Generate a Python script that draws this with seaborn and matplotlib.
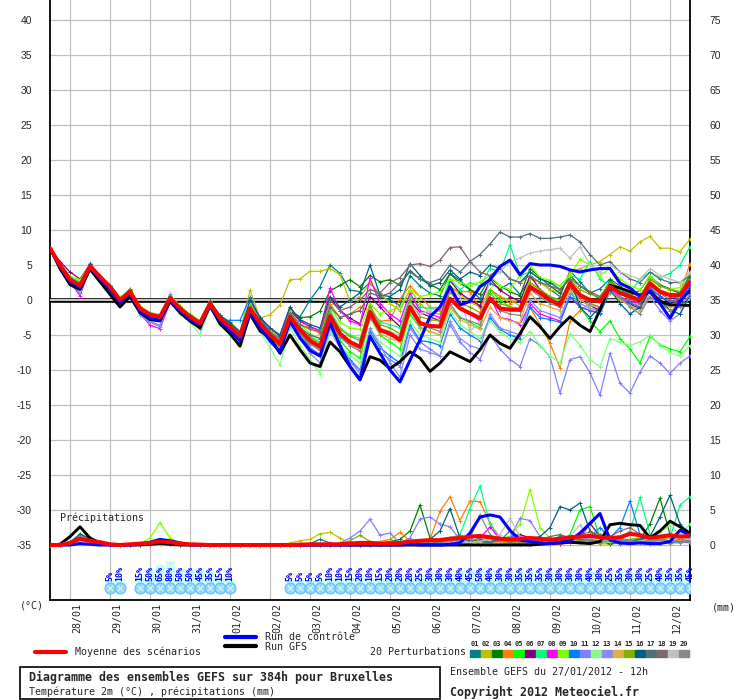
import numpy as np
import matplotlib
matplotlib.use('Agg')
import matplotlib.pyplot as plt
import seaborn as sns
from matplotlib.lines import Line2D
from matplotlib.patches import Rectangle
from matplotlib.transforms import ScaledTranslation

# GEFS run of 27/01/2012 12h, one value every 6h from 0h to 384h
STEP_H = 6
N_STEPS = 65

DATES = ['28/01', '29/01', '30/01', '31/01', '01/02', '02/02', '03/02', '04/02',
         '05/02', '06/02', '07/02', '08/02', '09/02', '10/02', '11/02', '12/02']
LEFT_TICKS = [40, 35, 30, 25, 20, 15, 10, 5, 0, -5, -10, -15, -20, -25, -30, -35]
RIGHT_LABELS = ['75', '70', '65', '60', '55', '50', '45', '40', '35', '30', '25', '20',
                '15', '10', '5', '0']
PRECIP_ZERO = -35   # precipitation (mm) drawn on the temperature scale, 0 mm at -35

PERT_NAMES = ['%02d' % k for k in range(1, 21)]
PERT_COLORS = ['#008080', '#c0c000', '#008000', '#ff8000', '#00ff00', '#800080',
               '#00ff80', '#ff00ff', '#80ff00', '#0080ff', '#8080ff', '#80ff80',
               '#8888ff', '#e0b040', '#80b000', '#006080', '#507078', '#806870',
               '#c0c0c0', '#888888']

# --- 2m temperature (°C) ---
MEAN_T = [7.4, 5.0, 2.9, 2.1, 4.8, 3.3, 1.9, 0.0, 1.2, -1.2, -2.1, -2.4, 0.3, -1.2, -2.4, -3.3,
          -0.5, -2.6, -3.8, -5.2, -1.2, -3.3, -5.0, -6.3, -2.4, -4.3, -5.8, -6.7, -2.3, -4.8, -6.0, -6.7,
          -1.7, -4.3, -4.8, -5.7, -1.0, -3.3, -3.7, -3.8, 0.2, -1.2, -1.9, -2.6, 0.2, -1.2, -1.4, -1.4,
          1.9, 1.0, 0.0, -0.7, 2.4, 0.7, 0.0, -0.2, 1.9, 1.0, 0.5, 0.0, 2.4, 1.2, 0.7, 0.7, 2.6]
CTRL_T = [7.4, 4.8, 2.6, 1.8, 4.6, 3.0, 1.5, -0.4, 1.0, -1.6, -2.6, -2.9, 0.0, -1.6, -2.8, -3.6,
          -0.8, -3.0, -4.4, -5.8, -1.8, -4.0, -5.8, -7.4, -3.0, -5.4, -7.2, -8.0, -3.3, -6.5, -9.5, -11.4,
          -5.2, -7.6, -10.0, -11.7, -8.6, -5.7, -2.4, -1.0, 1.9, -0.7, -0.2, 1.9, 2.9, 4.8, 5.7, 3.6,
          5.2, 5.0, 5.0, 4.8, 4.3, 4.0, 4.3, 4.5, 4.5, 2.4, 1.7, 0.5, 1.2, -0.5, -2.6, -0.2, 1.4]
GFS_T = [7.4, 4.5, 2.2, 1.5, 4.4, 2.6, 0.8, -1.0, 0.5, -1.8, -2.8, -3.0, -0.2, -1.8, -3.0, -4.0,
         -0.8, -3.4, -4.8, -6.6, -2.0, -4.4, -5.4, -7.6, -5.0, -7.1, -9.0, -9.5, -6.0, -7.4, -9.5, -11.4,
         -8.1, -8.6, -9.8, -8.8, -7.4, -8.3, -10.2, -9.0, -7.4, -8.1, -8.8, -7.1, -5.0, -6.2, -6.9, -4.8,
         -2.4, -3.8, -5.5, -3.8, -2.4, -3.6, -4.5, -1.4, 2.1, 1.7, 1.2, 0.7, 1.2, -0.2, -0.7, -0.7, -0.8]

T01 = [7.4, 5.1, 3.0, 2.2, 4.9, 3.4, 2.0, 0.2, 1.5, -1.0, -2.0, -2.3, 0.6, -1.0, -2.2, -3.0,
       -0.3, -2.5, -3.5, -4.8, -1.0, -3.0, -4.6, -5.5, -1.5, -2.4, 0.0, 1.9, 5.0, 3.8, 1.4, 1.2,
       2.5, 0.5, 0.0, -0.8, 3.5, 2.0, 1.0, 0.6, 3.8, 2.8, 1.5, 0.2, 2.4, 1.6, 2.4, 0.8,
       3.0, 2.6, 1.5, 0.5, 4.2, 2.6, 1.0, 1.6, 3.0, 2.0, 0.6, 1.4, 3.4, 2.2, 1.6, 1.0, 3.6]
T02 = [7.4, 5.2, 3.1, 2.4, 5.0, 3.5, 2.1, 0.3, 1.4, -0.9, -1.8, -2.1, 0.5, -0.9, -2.1, -3.0,
       -0.2, -2.3, -3.4, -4.6, 1.4, -2.6, -2.1, -0.7, 2.9, 3.0, 4.1, 4.1, 4.5, 3.6, -0.2, 0.5,
       2.4, 1.0, -0.5, -1.5, 1.5, -0.5, -1.8, -2.0, 2.0, 0.8, -0.3, -1.0, 1.5, 0.5, 0.0, -0.8,
       3.0, 2.5, 1.5, 1.0, 4.0, 4.5, 5.0, 5.5, 6.5, 7.6, 7.0, 8.3, 9.1, 7.4, 7.4, 6.9, 8.7]
T03 = [7.4, 5.0, 2.8, 2.0, 4.9, 3.4, 1.8, 0.1, 1.6, -1.1, -2.0, -2.2, 0.4, -1.1, -2.3, -3.1,
       -0.4, -2.2, -3.2, -4.5, -0.8, -2.6, -4.0, -5.2, -1.8, -2.5, -2.4, -1.6, 1.3, 2.1, 2.9, 1.9,
       3.5, 2.6, 2.9, 2.1, 4.2, 3.0, 2.2, 1.5, 3.8, 2.4, 1.5, 0.8, 3.2, 2.0, 1.2, 0.6,
       4.5, 3.2, 2.0, 1.0, 3.5, 2.0, 1.0, 0.2, 2.8, 1.5, 0.6, 0.0, 3.0, 2.0, 1.5, 1.0, 3.2]
T04 = [7.4, 4.9, 2.7, 2.0, 4.7, 3.2, 1.7, -0.2, 1.1, -1.4, -2.3, -2.6, 0.1, -1.4, -2.6, -3.5,
       -0.6, -2.8, -4.0, -5.4, -1.0, -3.2, -4.8, -6.0, -2.4, -3.5, -4.0, -4.8, -0.6, -2.5, -2.0, -1.0,
       -1.5, -3.0, -2.9, 0.2, 2.0, 0.5, -1.0, -1.5, 1.8, 1.2, 1.2, -1.2, 1.5, 0.5, -0.5, 0.0,
       -1.0, -3.5, -6.2, -9.7, -3.0, -1.5, -0.5, -1.2, 2.5, 1.0, 0.0, -1.0, 1.8, -0.5, -2.6, 1.0, 5.2]
T05 = [7.4, 5.1, 3.3, 2.6, 4.9, 3.1, 1.6, -0.3, 1.0, -1.5, -2.4, -2.8, -0.1, -1.7, -2.9, -3.8,
       -0.7, -3.0, -4.4, -5.8, -1.7, -4.0, -5.7, -7.2, -3.0, -5.2, -6.8, -8.0, -3.0, -5.8, -7.4, -8.3,
       -2.5, -5.0, -6.0, -7.0, -2.0, -4.0, -4.5, -5.0, -1.0, -2.5, -3.2, -4.0, 1.5, 0.0, -1.0, -1.5,
       2.5, 1.5, 0.5, -0.5, 1.5, -1.0, -3.0, -4.5, -3.0, -5.5, -7.0, -9.0, -5.2, -6.4, -7.0, -7.4, -5.2]
T06 = [7.4, 5.5, 4.0, 3.0, 5.1, 3.5, 2.0, 0.1, 1.3, -1.1, -2.0, -2.4, 0.4, -1.3, -2.5, -3.3,
       -0.3, -2.5, -3.6, -4.9, -0.8, -2.8, -4.4, -5.5, -1.5, -3.0, -3.8, -4.4, 0.3, -1.5, -2.6, -3.4,
       0.5, -1.0, -2.5, -3.8, 0.0, -1.8, -2.4, -3.0, 2.8, 1.0, 0.0, -0.8, 3.0, 1.4, 0.5, -0.2,
       3.5, 1.5, 0.2, -1.0, 1.8, 0.0, -0.8, -1.5, 1.2, 0.2, -0.6, -1.2, 1.5, 0.6, -0.5, 0.0, 2.0]
T07 = [7.4, 4.9, 2.8, 2.0, 4.7, 3.2, 1.9, 0.1, 1.3, -1.0, -2.0, -2.2, 0.6, -0.9, -2.1, -3.0,
       -0.2, -2.3, -3.5, -4.8, -0.9, -3.0, -4.6, -5.8, -2.0, -3.9, -5.2, -6.0, -1.5, -4.0, -5.0, -5.5,
       -1.0, -3.2, -3.5, -4.0, 0.5, -1.0, -1.2, -1.0, 3.0, 1.5, 2.5, 2.0, 4.5, 4.0, 7.9, 3.5,
       4.0, 3.0, 2.5, 2.0, 3.5, 3.0, 5.5, 3.0, 2.0, 1.5, 1.0, 3.0, 4.0, 3.2, 3.8, 5.0, 7.6]
T08 = [7.4, 4.9, 2.6, 0.6, 4.6, 3.1, 1.7, -0.4, 0.7, -1.9, -3.6, -4.1, -0.3, -1.6, -2.7, -3.6,
       -0.8, -2.8, -3.5, -4.6, -0.5, -2.4, -4.0, -5.0, -1.0, -3.0, -3.8, -4.4, 1.7, -1.5, -3.0, -3.5,
       3.1, -0.5, -2.0, -3.0, 1.0, -1.5, -2.0, -2.5, 1.5, -1.0, -2.0, -3.0, 0.5, -2.5, -2.8, -3.5,
       -0.5, -2.0, -2.5, -3.0, 0.5, -1.0, -1.5, -1.8, 1.5, 0.5, -0.2, -0.5, 2.0, 1.0, 0.5, 0.2, 2.5]
T09 = [7.4, 5.2, 3.4, 2.9, 5.0, 3.5, 2.1, 0.4, 1.5, -0.9, -1.8, -2.1, 0.7, -0.8, -2.0, -2.9,
       -0.1, -2.2, -3.4, -4.6, -0.6, -2.8, -4.4, -5.6, -1.6, -3.5, -4.8, -5.5, -1.0, -3.2, -4.0, -4.2,
       -0.5, -2.0, -1.5, -1.0, 1.5, 0.5, 0.8, 1.2, 3.0, 2.5, 2.0, 2.6, 3.5, 2.0, 1.5, 3.5,
       5.0, 3.2, 2.8, 2.0, 3.5, 5.8, 5.0, 3.5, 4.5, 3.0, 2.0, 1.5, 3.5, 2.0, 1.5, 1.8, 3.8]
T10 = [7.4, 4.8, 2.6, 1.8, 4.5, 3.0, 1.6, -0.2, 1.0, -1.3, -2.1, -2.6, 0.5, -1.0, -2.5, -3.6,
       -0.2, -2.9, -2.9, -2.9, 0.4, -2.6, -4.5, -6.0, -2.0, -4.6, -6.8, -8.0, -3.8, -6.5, -8.5, -10.0,
       -4.5, -6.8, -8.0, -9.0, -3.5, -5.8, -6.0, -6.5, -2.0, -4.0, -5.0, -5.8, -2.5, -4.2, -5.0, -5.5,
       -1.0, -2.5, -2.8, -3.2, 0.5, -1.0, -1.5, -2.0, 1.2, 0.2, -0.4, -1.0, 1.8, 0.5, -0.2, 0.2, 2.0]
T11 = [7.4, 4.6, 2.3, 1.0, 5.3, 3.5, 1.6, -0.5, 0.8, -1.9, -3.1, -3.6, 0.8, -1.5, -2.8, -3.6,
       -0.9, -3.0, -4.3, -6.0, -1.8, -4.0, -5.8, -7.1, -3.2, -5.3, -6.8, -7.8, -4.5, -6.8, -8.8, -10.0,
       -5.0, -7.5, -8.5, -9.5, -4.0, -6.0, -7.0, -8.0, -3.5, -6.0, -7.5, -8.5, -5.0, -7.0, -8.5, -9.5,
       -5.5, -6.5, -8.1, -13.3, -8.5, -8.1, -10.4, -13.6, -7.6, -11.9, -13.3, -10.3, -8.0, -9.0, -10.5, -9.0, -8.0]
T12 = [7.4, 4.7, 2.4, 1.5, 4.3, 2.7, 1.3, -0.6, 0.6, -1.8, -2.7, -3.0, 0.0, -2.0, -3.2, -5.0,
       -1.2, -3.4, -4.8, -6.3, -2.0, -4.5, -6.8, -9.3, -4.0, -6.5, -8.5, -10.5, -4.5, -6.5, -8.0, -9.0,
       -4.0, -6.0, -7.0, -8.0, -3.0, -5.0, -5.5, -6.0, -1.5, -3.5, -4.5, -5.5, -3.0, -4.5, -5.5, -6.0,
       -4.5, -6.5, -8.0, -9.0, -4.8, -6.5, -8.5, -9.5, -5.5, -6.0, -6.5, -6.0, -5.0, -6.5, -7.5, -8.0, -6.5]
T13 = [7.4, 4.8, 2.5, 1.7, 5.0, 3.1, 1.5, -0.3, 0.9, -2.2, -3.2, -3.8, 0.1, -1.9, -3.0, -4.1,
       -1.0, -3.2, -4.5, -6.0, -1.5, -4.2, -6.0, -7.5, -3.5, -5.6, -7.6, -9.0, -4.0, -6.4, -8.8, -10.5,
       -4.0, -6.5, -9.0, -11.0, -5.0, -7.0, -7.5, -8.0, -3.0, -5.5, -6.5, -7.0, -2.0, -4.0, -4.5, -5.0,
       0.0, -1.5, -2.0, -2.5, 1.0, -0.5, -1.2, -1.5, 1.5, 0.0, -0.8, -1.5, 0.5, -1.5, -3.0, -2.0, 0.5]
T14 = [7.4, 4.9, 2.8, 2.1, 4.8, 3.2, 1.8, -0.1, 1.1, -1.3, -2.2, -2.5, 0.2, -1.3, -2.5, -3.4,
       -0.6, -2.7, -3.9, -5.3, -1.4, -3.5, -5.2, -6.5, -2.6, -4.6, -6.2, -7.0, -2.8, -5.2, -6.5, -7.2,
       -2.5, -4.8, -5.5, -6.0, -1.5, -3.8, -4.5, -5.0, -1.0, -2.8, -3.5, -4.2, -1.0, -2.5, -3.0, -3.2,
       1.0, -0.5, -1.0, -1.5, 1.5, 0.0, -0.8, -1.0, 1.2, 0.0, -0.8, -1.5, 1.0, -0.5, -1.0, -0.5, 1.5]
T15 = [7.4, 5.0, 3.0, 2.3, 4.9, 3.4, 2.0, 0.1, 1.4, -1.0, -1.9, -2.2, 0.5, -1.0, -2.2, -3.1,
       -0.3, -2.4, -3.6, -5.0, -0.9, -3.1, -4.7, -6.0, -2.0, -4.0, -5.4, -6.2, -1.8, -4.2, -5.2, -5.8,
       -0.8, -3.5, -4.0, -4.8, 0.0, -2.4, -2.8, -3.0, 1.2, -0.5, -1.0, -1.8, 1.0, -0.5, -1.0, -1.2,
       2.5, 1.5, 0.5, 0.0, 2.8, 1.5, 0.8, 0.5, 2.5, 1.8, 1.0, 0.5, 3.0, 2.0, 1.5, 1.2, 3.0]
T16 = [7.4, 5.1, 3.1, 2.3, 5.1, 3.5, 2.0, 0.0, 1.3, -1.2, -2.0, -2.3, 0.5, -1.1, -2.2, -3.1,
       -0.2, -2.2, -3.3, -4.6, 0.0, -2.5, -4.0, -5.0, -1.0, -2.8, -3.5, -4.0, 0.5, -1.0, 0.0, 1.0,
       5.0, 0.7, 0.5, 1.5, 5.2, 3.5, 2.0, 2.5, 4.3, 3.0, 4.0, 3.5, 5.0, 4.5, 3.0, 2.5,
       4.0, 3.0, 2.5, 1.5, 3.0, -1.0, -2.5, -1.0, 1.5, -0.5, -2.0, -1.0, 1.5, 0.0, -1.5, -2.0, 0.8]
T17 = [7.4, 5.0, 2.9, 2.2, 4.7, 3.1, 1.8, 0.0, 1.1, -1.3, -2.3, -2.6, 0.2, -1.3, -2.6, -3.5,
       -0.6, -2.6, -3.8, -5.2, -1.3, -3.4, -5.0, -6.2, -2.2, -4.0, -5.0, -5.5, -1.0, -2.5, -2.0, -1.5,
       1.0, 0.5, 1.0, 2.5, 4.0, 3.0, 2.5, 3.0, 5.0, 4.0, 5.5, 6.5, 8.0, 9.7, 9.0, 9.0,
       9.5, 8.8, 8.8, 9.0, 9.3, 8.3, 6.5, 5.0, 5.5, 4.0, 3.0, 2.5, 4.0, 3.0, 2.5, 2.5, 3.5]
T18 = [7.4, 5.1, 3.0, 2.2, 4.8, 3.3, 1.9, 0.0, 1.2, -1.2, -2.2, -2.5, 0.3, -1.2, -2.4, -3.3,
       -0.4, -2.5, -3.7, -5.0, -1.1, -3.1, -4.6, -5.6, -1.8, -3.5, -4.2, -4.5, 0.0, -1.5, -1.0, 0.0,
       1.5, 1.0, 2.5, 3.2, 5.0, 5.2, 4.8, 5.7, 7.5, 7.6, 5.5, 4.0, 3.5, 4.5, 3.0, 2.5,
       3.5, 2.5, 2.0, 1.5, 3.0, 2.0, 1.2, 0.5, 2.0, 1.0, 0.2, -0.5, 2.0, 1.0, 0.0, -0.5, 1.5]
T19 = [7.4, 4.9, 2.7, 1.9, 4.6, 3.0, 1.7, -0.2, 1.0, -1.5, -2.4, -2.7, 0.0, -1.5, -2.7, -3.6,
       -0.7, -2.9, -4.2, -5.6, -1.6, -3.8, -5.5, -6.8, -2.8, -4.8, -6.2, -7.2, -2.8, -5.3, -6.4, -7.0,
       -2.0, -4.0, -4.5, -5.0, -0.5, -2.0, -1.5, -1.0, 1.5, 0.5, -4.5, -3.0, 3.0, 4.0, 5.5, 6.0,
       6.7, 7.0, 7.2, 7.4, 6.0, 7.6, 5.0, 4.0, 5.0, 4.0, 3.5, 3.0, 4.5, 3.5, 3.0, 2.5, 4.0]
T20 = [7.4, 4.8, 2.6, 1.8, 4.6, 3.1, 1.6, -0.3, 0.9, -1.5, -2.4, -2.7, 0.0, -1.5, -2.7, -3.7,
       -0.8, -3.0, -4.3, -5.7, -1.5, -3.7, -5.4, -6.8, -2.8, -4.8, -6.3, -7.2, -3.0, -5.3, -6.5, -7.3,
       -2.5, -4.5, -5.0, -5.5, -1.0, -3.5, -4.0, -4.5, -0.5, -2.5, -3.0, -3.5, 0.5, -1.5, -2.0, -2.2,
       1.5, 0.5, -0.5, -1.0, 2.0, 0.5, -0.5, -1.0, 1.0, 0.5, -1.0, -2.0, 0.5, -0.5, -1.5, -1.0, 0.8]
PERT_T = [T01, T02, T03, T04, T05, T06, T07, T08, T09, T10,
          T11, T12, T13, T14, T15, T16, T17, T18, T19, T20]

# --- precipitation (mm per 6h) ---
MEAN_P = [0, 0, 0.3, 0.9, 0.6, 0.4, 0.1, 0, 0.1, 0.2, 0.3, 0.5, 0.4, 0.2, 0.1, 0.05, 0, 0, 0, 0,
          0, 0, 0, 0, 0, 0.05, 0.1, 0.1, 0.1, 0.1, 0.2, 0.3, 0.3, 0.2, 0.2, 0.3, 0.5, 0.6, 0.7, 0.7,
          0.9, 1.0, 1.2, 1.3, 1.1, 0.9, 0.8, 0.9, 1.0, 0.9, 0.7, 0.9, 1.1, 1.2, 1.3, 1.1, 1.0, 1.1, 1.6, 1.4,
          1.0, 1.2, 1.4, 1.2, 1.3]
CTRL_P = [0, 0, 0, 0.2, 0.1, 0, 0, 0, 0, 0.1, 0.4, 0.8, 0.6, 0.3, 0, 0, 0, 0, 0, 0,
          0, 0, 0, 0, 0, 0, 0, 0, 0, 0, 0, 0, 0, 0, 0, 0, 0.1, 0, 0, 0,
          0.1, 0.3, 1.7, 4.0, 4.3, 4.0, 2.1, 0.7, 0.5, 0.3, 0.2, 0.4, 0.6, 1.7, 3.1, 4.5, 0.7, 0.3, 0.2, 0.3,
          0.2, 0.2, 0.5, 2.1, 1.4]
GFS_P = [0, 0.1, 1.2, 2.6, 1.0, 0.3, 0, 0, 0, 0, 0.1, 0.2, 0.1, 0, 0, 0, 0, 0, 0, 0,
         0, 0, 0, 0, 0, 0, 0, 0, 0, 0, 0, 0, 0, 0, 0, 0, 0, 0, 0, 0,
         0, 0, 0, 0, 0, 0, 0, 0, 0, 0.1, 0.2, 0.3, 0.4, 0.3, 0.2, 0.5, 2.9, 3.1, 2.9, 2.8,
         1.0, 2.0, 3.4, 2.6, 1.7]

P01 = [0, 0, 0.2, 0.8, 0.4, 0.1, 0, 0, 0, 0, 0.1, 0.3, 0.2, 0, 0, 0, 0, 0, 0, 0, 0, 0, 0, 0,
       0, 0, 0.2, 0.8, 0.3, 0, 0, 0, 0.1, 0.2, 0.3, 0.2, 0.4, 0.5, 0.3, 0.6, 1.0, 0.8, 0.5, 0.3,
       0.2, 0.4, 0.6, 0.3, 0.2, 0.5, 0.8, 1.2, 0.9, 0.6, 0.4, 0.5, 0.3, 0.2, 0.6, 0.8, 0.5, 0.3, 0.4, 0.6, 0.5]
P02 = [0, 0, 0.4, 1.2, 0.6, 0.2, 0, 0, 0, 0, 0, 0.2, 0.1, 0, 0, 0, 0, 0, 0, 0, 0, 0, 0, 0,
       0.3, 0.6, 0.8, 1.6, 1.8, 1.0, 0.2, 0.1, 0, 0, 0.1, 0.2, 0.3, 0.2, 0.1, 0.3, 0.4, 0.2, 0.1, 0,
       0.2, 0.3, 0.1, 0.2, 0.3, 0.4, 0.2, 0.1, 0.3, 0.5, 0.4, 0.2, 0.1, 0.3, 0.5, 0.6, 0.4, 0.3, 0.2, 0.4, 0.3]
P03 = [0, 0, 0.3, 1.0, 0.8, 0.4, 0.1, 0, 0, 0, 0.2, 0.4, 0.3, 0.1, 0, 0, 0, 0, 0, 0, 0, 0, 0, 0,
       0, 0, 0, 0, 0.1, 0, 0, 0, 0.2, 0.3, 0.5, 0.8, 2.0, 5.7, 1.0, 0.4, 0.3, 0.2, 0.4, 0.3,
       0.2, 0.5, 0.3, 0.2, 0.4, 0.6, 0.3, 0.5, 0.8, 0.4, 0.3, 0.5, 0.2, 0.4, 0.6, 0.8, 3.0, 6.7, 1.5, 0.8, 0.5]
P04 = [0, 0, 0.1, 0.6, 0.4, 0.1, 0, 0, 0, 0, 0.1, 0.2, 0.1, 0, 0, 0, 0, 0, 0, 0, 0, 0, 0, 0,
       0, 0, 0, 0, 0, 0, 0.1, 0.2, 0.3, 0.5, 0.8, 1.8, 0.6, 0.4, 0.8, 4.8, 6.9, 3.5, 6.3, 6.2,
       3.1, 1.0, 0.4, 0.2, 0.3, 0.5, 0.2, 0.1, 0.3, 0.4, 0.2, 0.3, 0.5, 0.4, 0.2, 0.3, 0.5, 0.4, 0.3, 0.6, 0.4]
P05 = [0, 0, 0.5, 1.4, 0.9, 0.3, 0, 0, 0, 0, 0.3, 0.6, 0.4, 0.2, 0, 0, 0, 0, 0, 0, 0, 0, 0, 0,
       0, 0, 0, 0, 0.1, 0.1, 0.2, 0.3, 0.2, 0.1, 0.3, 0.4, 0.6, 0.3, 0.2, 0.4, 0.8, 0.5, 0.3, 0.6,
       0.4, 0.3, 0.5, 0.2, 0.3, 0.6, 0.4, 0.5, 1.5, 5.0, 5.5, 1.0, 0.5, 0.3, 0.4, 0.6, 0.5, 0.8, 0.6, 0.4, 0.7]
P06 = [0, 0, 0.3, 0.7, 1.0, 0.3, 0, 0, 0, 0, 0.1, 0.3, 0.2, 0, 0, 0, 0, 0, 0, 0, 0, 0, 0, 0,
       0, 0, 0, 0, 0, 0, 0, 0.1, 0.2, 0.1, 0.2, 0.3, 0.5, 0.4, 0.3, 0.2, 0.4, 0.6, 0.5, 0.3,
       0.5, 0.8, 1.2, 1.5, 1.0, 0.6, 0.4, 0.8, 1.2, 1.0, 3.1, 1.2, 0.8, 0.6, 0.4, 0.5, 0.3, 0.4, 0.6, 0.5, 0.4]
P07 = [0, 0, 0.2, 0.9, 0.5, 0.2, 0, 0, 0, 0, 0.2, 0.4, 0.3, 0.1, 0, 0, 0, 0, 0, 0, 0, 0, 0, 0,
       0, 0, 0, 0, 0, 0, 0, 0.1, 0.3, 0.2, 0.4, 0.3, 0.6, 0.5, 0.4, 0.8, 1.0, 1.5, 5.2, 8.4,
       3.0, 1.0, 0.5, 0.3, 0.4, 0.6, 0.3, 0.4, 0.5, 0.8, 0.6, 0.4, 0.5, 0.8, 2.0, 6.8, 1.5, 0.8, 1.0, 5.7, 6.9]
P08 = [0, 0, 0.4, 1.0, 0.4, 0.1, 0, 0, 0, 0, 0.2, 0.5, 0.2, 0, 0, 0, 0, 0, 0, 0, 0, 0, 0, 0,
       0, 0, 0, 0.1, 0.2, 0, 0, 0, 0.1, 0.2, 0.3, 0.2, 0.4, 0.3, 0.2, 0.5, 0.6, 0.4, 0.5, 1.0,
       2.6, 0.8, 0.4, 0.3, 0.2, 0.4, 0.3, 0.2, 0.5, 0.4, 0.3, 0.6, 0.4, 0.3, 0.5, 0.4, 0.3, 0.6, 0.5, 0.4, 0.5]
P09 = [0, 0, 0.3, 1.1, 0.6, 0.2, 0, 0, 0, 0.2, 1.0, 3.2, 1.0, 0.3, 0, 0, 0, 0, 0, 0, 0, 0, 0, 0,
       0, 0, 0, 0, 0, 0.1, 0, 0, 0.1, 0.2, 0.3, 0.4, 0.3, 0.5, 0.4, 0.6, 0.5, 0.3, 0.4, 0.6,
       0.8, 1.0, 1.2, 3.0, 7.9, 2.5, 1.0, 0.6, 0.4, 0.5, 0.3, 0.6, 0.8, 0.5, 0.4, 0.3, 0.6, 0.8, 1.5, 1.0, 0.8]
P10 = [0, 0, 0.2, 0.8, 0.5, 0.2, 0, 0, 0, 0, 0.1, 0.4, 0.2, 0, 0, 0, 0, 0, 0, 0, 0, 0, 0, 0,
       0, 0, 0, 0, 0, 0, 0, 0.1, 0.1, 0.2, 0.1, 0.3, 0.2, 0.4, 0.3, 0.2, 0.5, 0.4, 0.3, 0.6,
       0.4, 0.3, 0.2, 0.4, 0.5, 0.3, 0.4, 0.6, 0.8, 1.0, 1.2, 2.5, 1.0, 2.5, 6.3, 1.5, 0.6, 0.4, 0.3, 0.5, 0.4]
P11 = [0, 0, 0.4, 1.3, 0.7, 0.2, 0, 0, 0, 0, 0.3, 0.6, 0.3, 0.1, 0, 0, 0, 0, 0, 0, 0, 0, 0, 0,
       0, 0, 0, 0, 0.1, 0.3, 1.0, 2.0, 3.7, 1.4, 1.7, 0.3, 1.0, 3.7, 4.0, 3.0, 2.6, 0.8, 0.5, 0.3,
       0.4, 0.6, 1.0, 3.8, 3.5, 1.2, 0.6, 0.4, 0.3, 0.5, 0.4, 0.3, 0.6, 0.5, 0.3, 0.4, 0.2, 0.3, 0.4, 0.3, 0.5]
P12 = [0, 0, 0.3, 0.9, 0.6, 0.3, 0.1, 0, 0, 0, 0.1, 0.3, 0.1, 0, 0, 0, 0, 0, 0, 0, 0, 0, 0, 0,
       0, 0, 0, 0, 0, 0, 0, 0, 0.1, 0.1, 0.2, 0.3, 0.2, 0.4, 0.3, 0.5, 0.4, 0.6, 0.8, 0.5,
       0.4, 0.3, 0.5, 0.4, 0.6, 0.3, 0.4, 0.5, 0.8, 1.0, 0.6, 0.5, 0.4, 0.6, 0.8, 1.0, 1.2, 1.8, 2.8, 1.5, 3.0]
P13 = [0, 0, 0.2, 0.7, 0.4, 0.1, 0, 0, 0, 0, 0.2, 0.4, 0.3, 0.1, 0, 0, 0, 0, 0, 0, 0, 0, 0, 0,
       0, 0, 0, 0, 0, 0, 0, 0, 0.1, 0.2, 0.3, 0.2, 0.4, 0.3, 0.5, 0.3, 0.4, 0.6, 0.4, 0.3,
       0.5, 0.4, 0.3, 0.5, 0.4, 0.6, 0.5, 0.4, 0.6, 0.8, 1.0, 1.5, 0.8, 0.6, 0.4, 0.5, 0.3, 0.6, 0.4, 0.5, 0.6]
P14 = [0, 0, 0.3, 1.0, 0.5, 0.2, 0, 0, 0, 0, 0.2, 0.5, 0.4, 0.1, 0, 0, 0, 0, 0, 0, 0, 0, 0, 0,
       0, 0, 0, 0, 0, 0, 0, 0, 0, 0.1, 0.2, 0.1, 0.3, 0.2, 0.4, 0.3, 0.2, 0.4, 0.5, 0.3,
       0.2, 0.4, 0.3, 0.5, 0.6, 0.4, 0.3, 0.5, 0.4, 0.3, 0.5, 0.4, 0.6, 0.5, 0.3, 0.4, 0.5, 0.8, 1.0, 0.6, 0.8]
P15 = [0, 0, 0.4, 1.5, 0.8, 0.3, 0, 0, 0, 0, 0.1, 0.4, 0.2, 0, 0, 0, 0, 0, 0, 0, 0, 0, 0, 0,
       0, 0, 0, 0, 0, 0.2, 0.6, 1.4, 0.5, 0.2, 0.3, 0.2, 0.4, 0.6, 0.8, 0.5, 0.6, 1.4, 0.8, 0.5,
       0.4, 0.6, 0.3, 0.5, 0.4, 0.6, 0.8, 0.5, 0.4, 0.6, 0.8, 0.5, 0.6, 0.4, 0.8, 1.0, 0.6, 0.8, 1.2, 0.9, 1.0]
P16 = [0, 0, 0.3, 1.6, 0.9, 0.4, 0.1, 0, 0, 0, 0.2, 0.4, 0.2, 0, 0, 0, 0, 0, 0, 0, 0, 0, 0, 0,
       0, 0, 0, 0, 0, 0, 0, 0, 0.1, 0.2, 0.3, 0.5, 0.4, 0.6, 0.8, 2.0, 5.2, 1.0, 0.6, 0.5,
       0.4, 0.8, 0.6, 0.5, 0.8, 1.2, 2.5, 5.5, 5.0, 6.0, 2.0, 1.0, 0.8, 0.6, 0.5, 0.8, 1.2, 4.0, 7.1, 3.0, 1.5]
P17 = [0, 0, 0.2, 0.9, 0.7, 0.4, 0.1, 0, 0, 0, 0.1, 0.3, 0.2, 0, 0, 0, 0, 0, 0, 0, 0, 0, 0, 0,
       0, 0, 0, 0, 0, 0, 0, 0, 0, 0.1, 0.2, 0.3, 0.2, 0.4, 0.3, 0.5, 0.6, 0.8, 1.5, 0.8,
       0.5, 0.6, 2.0, 1.0, 0.6, 0.8, 1.2, 1.5, 1.0, 0.8, 0.6, 0.5, 0.8, 1.0, 0.6, 0.5, 0.8, 0.6, 0.4, 0.5, 0.6]
P18 = [0, 0, 0.3, 0.8, 0.5, 0.2, 0, 0, 0, 0, 0.2, 0.6, 0.3, 0.1, 0, 0, 0, 0, 0, 0, 0, 0, 0, 0,
       0, 0, 0, 0, 0, 0, 0, 0, 0.1, 0.1, 0.2, 0.3, 0.5, 0.4, 0.3, 0.6, 0.5, 0.8, 1.0, 1.2,
       0.8, 0.6, 0.5, 0.8, 1.0, 0.6, 0.5, 0.8, 1.2, 1.5, 1.8, 1.5, 1.2, 2.0, 2.5, 1.5, 1.0, 0.8, 0.6, 0.8, 1.0]
P19 = [0, 0, 0.2, 0.6, 0.3, 0.1, 0, 0, 0, 0, 0.1, 0.2, 0.1, 0, 0, 0, 0, 0, 0, 0, 0, 0, 0, 0,
       0, 0, 0, 0, 0, 0, 0, 0, 0, 0.1, 0.2, 0.3, 0.2, 0.4, 0.6, 0.8, 0.5, 0.3, 0.4, 0.5,
       0.8, 1.5, 3.8, 1.2, 0.6, 0.4, 0.5, 0.8, 1.2, 2.9, 1.0, 0.6, 0.8, 0.5, 0.4, 0.6, 0.8, 0.5, 0.6, 1.0, 0.8]
P20 = [0, 0, 0.3, 1.1, 0.6, 0.2, 0, 0, 0, 0, 0.2, 0.5, 0.3, 0, 0, 0, 0, 0, 0, 0, 0, 0, 0, 0,
       0, 0, 0, 0, 0, 0, 0, 0, 0.1, 0.2, 0.3, 0.2, 0.4, 0.3, 0.5, 0.4, 0.6, 0.8, 1.0, 4.3,
       1.5, 0.6, 0.8, 0.5, 0.4, 0.6, 0.8, 0.5, 0.6, 0.4, 0.8, 0.6, 1.0, 0.8, 0.6, 0.4, 0.5, 0.8, 0.6, 0.4, 0.5]
PERT_P = [P01, P02, P03, P04, P05, P06, P07, P08, P09, P10,
          P11, P12, P13, P14, P15, P16, P17, P18, P19, P20]

# probability of precipitation (%) per 6h step, 0 = no label
PRECIP_PROB = [0, 0, 0, 0, 0, 0, 5, 10, 0, 15, 50, 65, 80, 50, 50, 45, 35, 15, 10, 0,
               0, 0, 0, 0, 5, 5, 5, 5, 10, 10, 15, 20, 10, 15, 20, 20, 20, 25, 30, 30,
               30, 40, 45, 50, 40, 30, 30, 35, 35, 35, 30, 30, 30, 30, 40, 30, 25, 35, 30, 30,
               25, 40, 35, 35, 45]

# ---------------------------------------------------------------
sns.set_style('white')
plt.rcParams['font.family'] = ['DejaVu Sans Mono']
MONO = 'DejaVu Sans Mono'
SANS = 'Liberation Sans'

W, H = 740, 700
fig = plt.figure(figsize=(W / 100, H / 100), dpi=100)


def fx(x):
    return x / W


def fy(y):
    return 1 - y / H


ax = fig.add_axes([fx(50), fy(600), 640 / W, 600 / H])
hours = np.arange(N_STEPS) * STEP_H
YMAX = 300 / 7
ax.set_xlim(0, hours[-1])
ax.set_ylim(-YMAX, YMAX)

ax.set_axisbelow(True)
ax.grid(True, color='#c0c0c0', lw=0.9)
ax.set_yticks(LEFT_TICKS)
ax.set_yticklabels([str(v) for v in LEFT_TICKS], fontfamily=SANS, fontsize=7.5)
ax.set_xticks(12 + 24 * np.arange(len(DATES)))
ax.set_xticklabels(DATES, rotation=90, fontfamily=MONO, fontsize=7.2)
ax.tick_params(axis='y', length=0, pad=13)
ax.tick_params(axis='x', length=0, pad=2.2)
for lbl in ax.get_xticklabels():
    lbl.set_transform(lbl.get_transform() + ScaledTranslation(0.07, 0, fig.dpi_scale_trans))
ax.spines['top'].set_visible(False)
for side in ['left', 'right', 'bottom']:
    ax.spines[side].set_color('black')
    ax.spines[side].set_linewidth(1.3)

# zero line (double black rule)
ax.axhline(0, color='black', lw=3.3, zorder=2.5)
ax.axhline(0, color='white', lw=1.1, zorder=2.6)

# probability band, icons and labels at the bottom
prob = np.array(PRECIP_PROB)
has = prob > 0
bar_bottom = -YMAX + 8 / 7
bar_top = -YMAX + (20 + 0.25 * prob[has]) / 7
ax.bar(hours[has], bar_top - bar_bottom, width=STEP_H, bottom=bar_bottom,
       color='#c4fcff', zorder=2)
icon_y = np.full(has.sum(), -YMAX + 12.5 / 7)
ax.scatter(hours[has], icon_y, s=64, c='#8ad8fc', edgecolors='#56b4ee', linewidths=0.6, zorder=4)
ax.scatter(hours[has], icon_y, s=16, marker='x', c='#e6faff', linewidths=0.7, zorder=4.1)
for h, p in zip(hours[has], prob[has]):
    ax.text(h, -YMAX + 19 / 7, f'{p}%', rotation=90, ha='center', va='bottom',
            color='#0000ff', fontsize=6, fontweight='bold', fontfamily=MONO, zorder=5)

# ensemble members: temperature then precipitation
for vals, c in zip(PERT_T, PERT_COLORS):
    sns.lineplot(x=hours, y=vals, color=c, lw=0.9, marker='+', markersize=3.5,
                 markeredgecolor=c, markeredgewidth=0.7, errorbar=None, ax=ax, zorder=3)
for vals, c in zip(PERT_P, PERT_COLORS):
    sns.lineplot(x=hours, y=np.array(vals) + PRECIP_ZERO, color=c, lw=0.9, marker='+',
                 markersize=3.5, markeredgecolor=c, markeredgewidth=0.7, errorbar=None,
                 ax=ax, zorder=3)

for series, off in [(GFS_T, 0), (GFS_P, PRECIP_ZERO)]:
    sns.lineplot(x=hours, y=np.array(series) + off, color='black', lw=2.1, errorbar=None,
                 ax=ax, zorder=4)
for series, off in [(CTRL_T, 0), (CTRL_P, PRECIP_ZERO)]:
    sns.lineplot(x=hours, y=np.array(series) + off, color='#0000ff', lw=2.2, errorbar=None,
                 ax=ax, zorder=4.2)
for series, off in [(MEAN_T, 0), (MEAN_P, PRECIP_ZERO)]:
    sns.lineplot(x=hours, y=np.array(series) + off, color='#ff0000', lw=2.9, errorbar=None,
                 ax=ax, zorder=4.4)
ax.set_xlabel('')
ax.set_ylabel('')

# right-hand scale
ax2 = ax.twinx()
ax2.set_ylim(-YMAX, YMAX)
ax2.set_yticks(LEFT_TICKS)
ax2.set_yticklabels(RIGHT_LABELS, fontfamily=SANS, fontsize=7.5)
ax2.tick_params(axis='y', length=0, pad=14)
ax2.grid(False)
for s in ax2.spines.values():
    s.set_visible(False)

# texts around the plot
fig.text(fx(60), fy(518), 'Précipitations', fontsize=7.2, va='center', ha='left')
fig.text(fx(20), fy(606), '(°C)', fontsize=7.2, va='center', ha='left')
fig.text(fx(712), fy(607), '(mm)', fontsize=7.2, va='center', ha='left')

# legend
fig.add_artist(Line2D([fx(35), fx(66)], [fy(652), fy(652)], color='#ff0000', lw=3))
fig.text(fx(75), fy(652), 'Moyenne des scénarios', fontsize=7.2, va='center')
fig.add_artist(Line2D([fx(225), fx(256)], [fy(637), fy(637)], color='#0000ff', lw=3))
fig.text(fx(265), fy(637), 'Run de contrôle', fontsize=7.2, va='center')
fig.add_artist(Line2D([fx(225), fx(256)], [fy(646), fy(646)], color='black', lw=3))
fig.text(fx(265), fy(647), 'Run GFS', fontsize=7.2, va='center')
fig.text(fx(370), fy(652), '20 Perturbations', fontsize=7.2, va='center')
for k, (n, c) in enumerate(zip(PERT_NAMES, PERT_COLORS)):
    fig.add_artist(Rectangle((fx(470 + 11 * k), fy(657)), 10 / W, 7 / H, color=c))
    fig.text(fx(475 + 11 * k), fy(644), n, fontsize=5, fontweight='bold',
             ha='center', va='center')

# title box
fig.add_artist(Rectangle((fx(20), fy(699)), 420 / W, 32 / H, fill=False, ec='black', lw=1.2))
fig.text(fx(29), fy(677), 'Diagramme des ensembles GEFS sur 384h pour Bruxelles',
         fontsize=8.4, fontweight='bold', va='center')
fig.text(fx(29), fy(692), 'Température 2m (°C) , précipitations (mm)', fontsize=7.2, va='center')
fig.text(fx(450), fy(672), 'Ensemble GEFS du 27/01/2012 - 12h', fontsize=7.2, va='center')
fig.text(fx(450), fy(692), 'Copyright 2012 Meteociel.fr', fontsize=8.4, fontweight='bold',
         va='center')

fig.savefig('out.png', dpi=100)
